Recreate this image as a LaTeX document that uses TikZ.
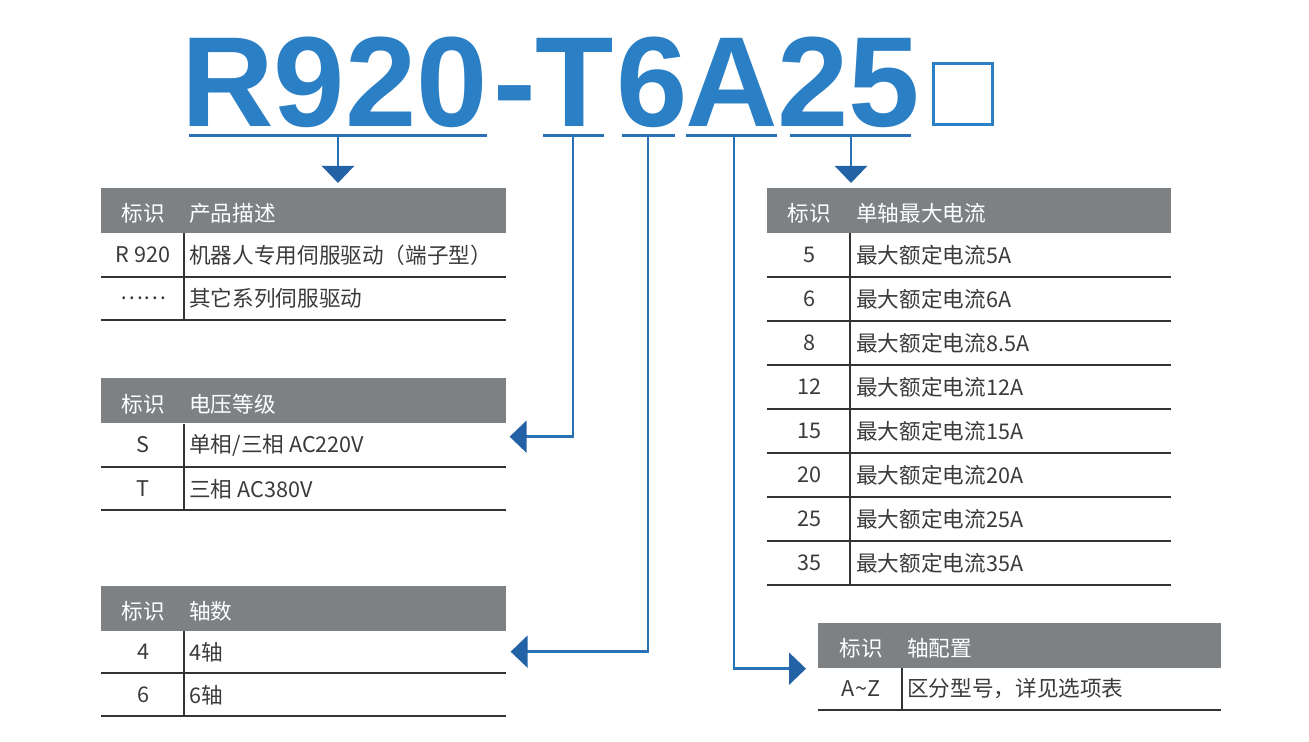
\documentclass[tikz,border=0pt]{standalone}
\usepackage{fontspec}
\setmainfont{Noto Sans CJK SC}
\newfontfamily\titlefont{Liberation Sans}
\usetikzlibrary{positioning, arrows.meta, calc}

\definecolor{ttlblue}{RGB}{43,128,197}
\definecolor{lineblue}{RGB}{41,114,183}
\definecolor{tipblue}{RGB}{36,98,166}
\definecolor{hdrgray}{RGB}{126,129,132}
\definecolor{txtgray}{RGB}{58,58,58}

\newcommand{\tabfont}{\fontsize{12.3}{14}\selectfont}

\begin{document}
\begin{tikzpicture}[x=0.02cm, y=-0.02cm,
    ttl/.style={font=\titlefont\bfseries\fontsize{73}{73}\selectfont, text=ttlblue, inner sep=0, anchor=base west},
    uline/.style={draw=lineblue, line width=0.06cm},
    link/.style={draw=lineblue, line width=0.05cm, -{Triangle[length=0.34cm, width=0.64cm, color=tipblue, fill=tipblue]}},
    hdr/.style={fill=hdrgray, inner sep=0, anchor=north west, minimum height=0.9cm},
    htxt/.style={text=white, font=\tabfont, inner sep=0},
    ctxt/.style={text=txtgray, font=\tabfont, inner sep=0},
    rowline/.style={draw=black!80, line width=0.035cm},
    colline/.style={draw=black!80, line width=0.025cm}]
        \useasboundingbox (0,0) rectangle (1309,742);

        % Model code
        \node[ttl] (tR) at (181,127) {R920};
        \node[ttl] (tD) at (493,127) {-};
        \node[ttl] (tT) at (535,127) {T};
        \node[ttl] (t6) at (616,127) {6};
        \node[ttl] (tA) at (685,127) {A};
        \node[ttl] (t25) at (777,127) {25};
        \node[draw=ttlblue, line width=0.06cm, minimum width=1.18cm, minimum height=1.22cm, inner sep=0, anchor=south west] (tBox) at (932,126) {};

        % Underlines below the code
        \draw[uline] (189,136) -- (487,136);
        \draw[uline] (543,136) -- (604,136);
        \draw[uline] (622,136) -- (675,136);
        \draw[uline] (686,136) -- (777,136);
        \draw[uline] (790,136) -- (911,136);
        \coordinate (uR) at (338,136);
        \coordinate (uT) at (573,136);
        \coordinate (u6) at (648,136);
        \coordinate (uA) at (734,136);
        \coordinate (u25) at (851,136);

        % Product table
        \node[hdr, minimum width=8.1cm] (prodH) at (101,188) {};
        \node[htxt] (prodK) at (143,213) {标识};
        \node[htxt, anchor=west] (prodD) at (189,213) {产品描述};
        \node[ctxt] (prodK1) at (143,255) {R 920};
        \node[ctxt, anchor=west] (prodD1) at (189,255) {机器人专用伺服驱动（端子型）};
        \node[ctxt] (prodK2) at (143,298) {……};
        \node[ctxt, anchor=west] (prodD2) at (189,298) {其它系列伺服驱动};
        \draw[rowline] (101,277) -- (506,277);
        \draw[rowline] (101,320) -- (506,320);
        \draw[colline] (184,233) -- (184,320);

        % Voltage table
        \node[hdr, minimum width=8.1cm] (voltH) at (101,378) {};
        \node[htxt] (voltK) at (143,404) {标识};
        \node[htxt, anchor=west] (voltD) at (189,404) {电压等级};
        \node[ctxt] (voltK1) at (143,445) {S};
        \node[ctxt, anchor=west] (voltD1) at (189,445) {单相/三相 AC220V};
        \node[ctxt] (voltK2) at (143,489) {T};
        \node[ctxt, anchor=west] (voltD2) at (189,489) {三相 AC380V};
        \draw[rowline] (101,467) -- (506,467);
        \draw[rowline] (101,510) -- (506,510);
        \draw[colline] (184,424) -- (184,510);

        % Axis count table
        \node[hdr, minimum width=8.1cm] (axisH) at (101,586) {};
        \node[htxt] (axisK) at (143,611) {标识};
        \node[htxt, anchor=west] (axisD) at (189,611) {轴数};
        \node[ctxt] (axisK1) at (143,652) {4};
        \node[ctxt, anchor=west] (axisD1) at (189,652) {4轴};
        \node[ctxt] (axisK2) at (143,695) {6};
        \node[ctxt, anchor=west] (axisD2) at (189,695) {6轴};
        \draw[rowline] (101,673) -- (506,673);
        \draw[rowline] (101,716) -- (506,716);
        \draw[colline] (184,631) -- (184,716);

        % Current table
        \node[hdr, minimum width=8.08cm] (curH) at (767,188) {};
        \node[htxt] (curK) at (809,213) {标识};
        \node[htxt, anchor=west] (curD) at (856,213) {单轴最大电流};
        \foreach \idx/\amp [count=\i] in {5/5,6/6,8/8.5,12/12,15/15,20/20,25/25,35/35} {
            \node[ctxt] (curK\i) at (809,211+44*\i) {\idx};
            \node[ctxt, anchor=west] (curD\i) at (856,211+44*\i) {最大额定电流\amp A};
            \draw[rowline] (767,233+44*\i) -- (1171,233+44*\i);
        }
        \draw[colline] (850,233) -- (850,585);

        % Axis configuration table
        \node[hdr, minimum width=8.06cm] (confH) at (818,623) {};
        \node[htxt] (confK) at (861,648) {标识};
        \node[htxt, anchor=west] (confD) at (907,648) {轴配置};
        \node[ctxt] (confK1) at (861,689) {A\textasciitilde Z};
        \node[ctxt, anchor=west] (confD1) at (907,689) {区分型号，详见选项表};
        \draw[rowline] (818,710) -- (1221,710);
        \draw[colline] (902,668) -- (902,710);

        % Connectors
        \coordinate (prodIn) at ($(prodH.north -| uR)+(0,-5)$);
        \coordinate (voltIn) at ($(voltH.south east)+(3,13)$);
        \coordinate (axisIn) at ($(axisH.south east)+(4,20)$);
        \coordinate (confIn) at ($(confH.south west)+(-12,0)$);
        \coordinate (curIn) at ($(curH.north -| u25)+(0,-5)$);
        \draw[link] (uR) -- (prodIn);
        \draw[link] (uT) |- (voltIn);
        \draw[link] (u6) |- (axisIn);
        \draw[link] (uA) |- (confIn);
        \draw[link] (u25) -- (curIn);
    \end{tikzpicture}
\end{document}
